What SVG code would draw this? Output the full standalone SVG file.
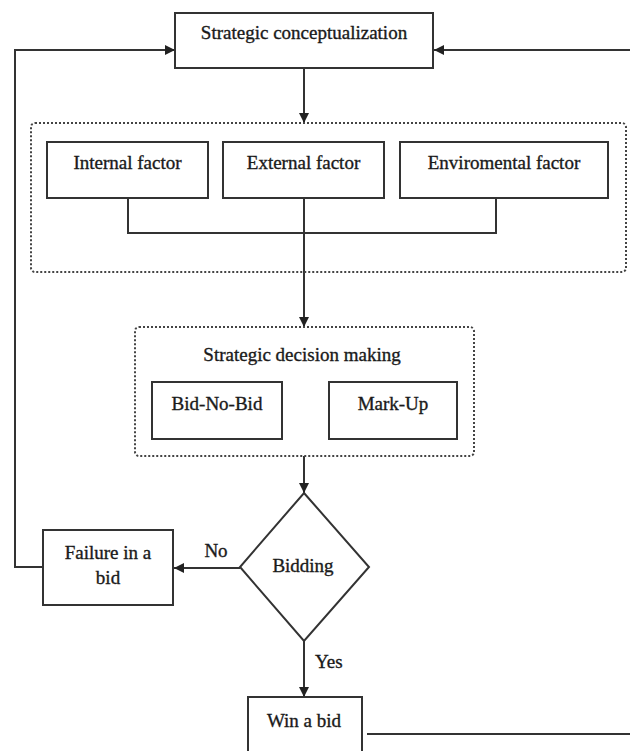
<svg xmlns="http://www.w3.org/2000/svg" width="630" height="751" viewBox="0 0 630 751">
<style>
.box{fill:#fff;stroke:#333;stroke-width:2}
.dot{fill:none;stroke:#444;stroke-width:2;stroke-dasharray:2 2}
.ln{fill:none;stroke:#333;stroke-width:2}
.t{font-family:"Liberation Serif","Times New Roman",serif;font-size:19px;fill:#1a1a1a;stroke:#1a1a1a;stroke-width:0.35;text-anchor:middle}
.l{font-family:"Liberation Serif","Times New Roman",serif;font-size:19px;fill:#1a1a1a;stroke:#1a1a1a;stroke-width:0.35}
</style>
<defs>
<marker id="ah" viewBox="0 0 10 10" refX="10" refY="5" markerWidth="10" markerHeight="10" markerUnits="userSpaceOnUse" orient="auto">
<path d="M0,0 L10,5 L0,10 Z" fill="#222"/>
</marker>
</defs>
<rect width="630" height="751" fill="#fff"/>
<g id="connectors">
<path class="ln" d="M43,567 H15 V50 H175" marker-end="url(#ah)"/>
<path class="ln" d="M630,50 H434" marker-end="url(#ah)"/>
<path class="ln" d="M304,68 V123" marker-end="url(#ah)"/>
<path class="ln" d="M128,198 V233 H496 V198"/>
<path class="ln" d="M304,198 V327" marker-end="url(#ah)"/>
<path class="ln" d="M304,456 V493" marker-end="url(#ah)"/>
<path class="ln" d="M240,568 H174" marker-end="url(#ah)"/>
<path class="ln" d="M304,641 V697" marker-end="url(#ah)"/>
<path class="ln" d="M367,734 H630"/>
</g>
<g id="strategic-conceptualization">
<rect class="box" x="175" y="13" width="258" height="55"/>
<text class="t" x="304" y="39">Strategic conceptualization</text>
</g>
<g id="factors-group">
<rect class="dot" x="31" y="123" width="595" height="149" rx="4"/>
</g>
<g id="internal-factor">
<rect class="box" x="47" y="142" width="161" height="56"/>
<text class="t" x="127.5" y="169">Internal factor</text>
</g>
<g id="external-factor">
<rect class="box" x="223" y="142" width="161" height="56"/>
<text class="t" x="303.5" y="169">External factor</text>
</g>
<g id="enviromental-factor">
<rect class="box" x="400" y="142" width="208" height="56"/>
<text class="t" x="504" y="169">Enviromental factor</text>
</g>
<g id="strategic-decision-making">
<rect class="dot" x="135" y="327" width="339" height="129" rx="4"/>
<text class="t" x="302" y="361">Strategic decision making</text>
</g>
<g id="bid-no-bid">
<rect class="box" x="152" y="382" width="130" height="57"/>
<text class="t" x="217" y="410">Bid-No-Bid</text>
</g>
<g id="mark-up">
<rect class="box" x="329" y="382" width="128" height="57"/>
<text class="t" x="393" y="410">Mark-Up</text>
</g>
<g id="bidding">
<path class="box" d="M304,493 L369,567 L304,641 L240,567 Z"/>
<text class="t" x="303" y="572">Bidding</text>
</g>
<g id="failure-in-a-bid">
<rect class="box" x="43" y="530" width="130" height="75"/>
<text class="t" x="108" y="559">Failure in a</text>
<text class="t" x="108" y="584">bid</text>
</g>
<g id="win-a-bid">
<rect class="box" x="248" y="697" width="114" height="70"/>
<text class="t" x="304" y="727">Win a bid</text>
</g>
<g id="labels">
<text class="t" x="216" y="557">No</text>
<text class="l" x="315" y="668">Yes</text>
</g>
</svg>
